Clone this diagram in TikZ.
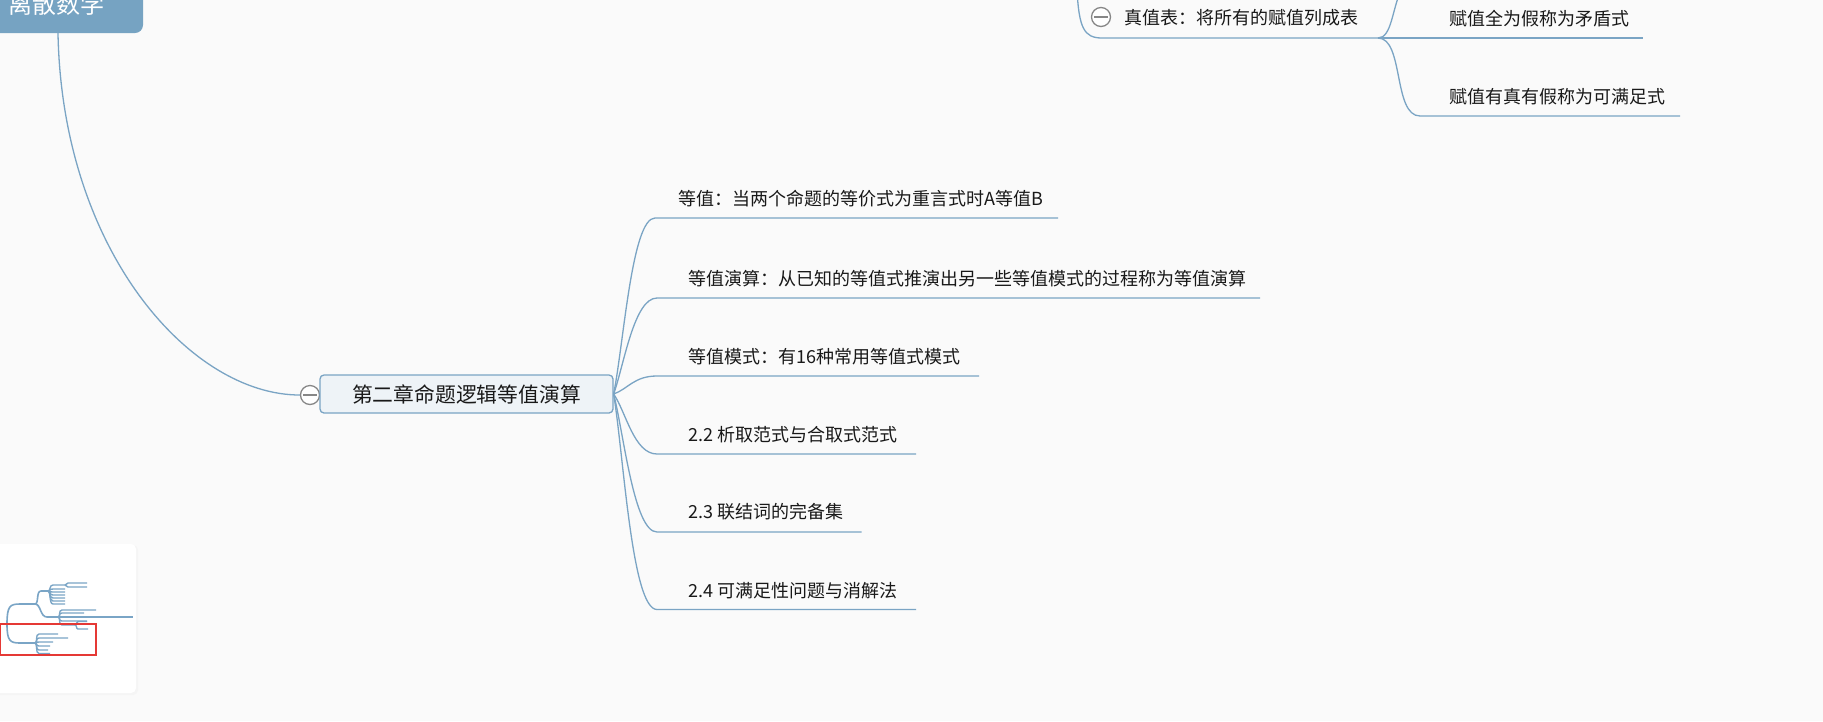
\documentclass[tikz,border=0pt]{standalone}
\usepackage{fontspec}
\setmainfont{Noto Sans CJK SC}
\definecolor{bg}{RGB}{250,250,250}
\definecolor{lineblue}{RGB}{122,164,196}
\definecolor{rootblue}{RGB}{118,163,194}
\definecolor{cfill}{RGB}{238,243,247}
\definecolor{txt}{RGB}{25,25,25}
\definecolor{togglegray}{RGB}{135,135,135}
\definecolor{minicol}{RGB}{122,165,198}
\definecolor{mapred}{RGB}{229,57,53}
\begin{document}
\begin{tikzpicture}[x=1pt,y=-1pt,
  conn/.style={draw=lineblue,line width=1.3pt},
  leaf/.style={anchor=west,inner sep=0pt,text=txt,font=\fontsize{18}{20}\selectfont},
  toggle/.style={circle,draw=togglegray,fill=white,line width=1.3pt,minimum size=19pt,inner sep=0pt,
    path picture={\draw[togglegray,line width=1.4pt] ([xshift=-7pt]path picture bounding box.center) -- ([xshift=7pt]path picture bounding box.center);}},
  rootbox/.style={fill=rootblue,rounded corners=8pt,minimum width=170pt,minimum height=56pt,inner sep=0pt},
  centerbox/.style={draw=lineblue,fill=cfill,line width=1.3pt,rounded corners=4pt,minimum width=293pt,minimum height=38pt,inner sep=0pt,text=txt,font=\fontsize{20.8}{22}\selectfont},
  minline/.style={draw=minicol,line width=1.6pt},
  redframe/.style={draw=mapred,line width=1.5pt}
]
\fill[bg] (0,0) rectangle (1823,721);
\useasboundingbox (0,0) rectangle (1823,721);
\clip (0,0) rectangle (1823,721);

% root
\node[rootbox] (root) at (58,5) {};
\node[anchor=base west,inner sep=0pt,text=white,font=\fontsize{24}{24}\selectfont] (roottxt) at (8,13) {离散数学};

% central node
\node[toggle] (t1) at (310,395) {};
\node[centerbox] (ch2) at (466.5,394) {第二章命题逻辑等值演算};
\draw[conn] (root.south) .. controls (62,250) and (190,395) .. (t1.west);

% children of chapter 2
\node[leaf] (k1) at (678,199) {等值：当两个命题的等价式为重言式时A等值B};
\node[leaf] (k2) at (688,279) {等值演算：从已知的等值式推演出另一些等值模式的过程称为等值演算};
\node[leaf] (k3) at (688,357) {等值模式：有16种常用等值式模式};
\node[leaf] (k4) at (688,435) {2.2 析取范式与合取式范式};
\node[leaf] (k5) at (688,512) {2.3 联结词的完备集};
\node[leaf] (k6) at (688,591) {2.4 可满足性问题与消解法};

\coordinate (u1s) at (655,218);   \coordinate (u1e) at (1058,218);
\coordinate (u2s) at (657,298);   \coordinate (u2e) at (1260,298);
\coordinate (u3s) at (657,376);   \coordinate (u3e) at (979,376);
\coordinate (u4s) at (657,454);   \coordinate (u4e) at (916,454);
\coordinate (u5s) at (657,532);   \coordinate (u5e) at (861.5,532);
\coordinate (u6s) at (657,609.5); \coordinate (u6e) at (916,609.5);

\draw[conn] (ch2.east) .. controls (624,341) and (632,218) .. (u1s) -- (u1e);
\draw[conn] (ch2.east) .. controls (624,365) and (634,298) .. (u2s) -- (u2e);
\draw[conn] (ch2.east) .. controls (628,389) and (634,376) .. (u3s) -- (u3e);
\draw[conn] (ch2.east) .. controls (626,412) and (634,454) .. (u4s) -- (u4e);
\draw[conn] (ch2.east) .. controls (624,435) and (634,532) .. (u5s) -- (u5e);
\draw[conn] (ch2.east) .. controls (624,459) and (632,609.5) .. (u6s) -- (u6e);

% top right: truth table
\node[toggle] (t2) at (1101,17) {};
\node[leaf] (tv) at (1124,17.5) {真值表：将所有的赋值列成表};
\coordinate (p0) at (1077,-10);
\coordinate (tvs) at (1102,38);
\coordinate (tve) at (1378,38);
\draw[conn] (p0) .. controls (1079,28) and (1084,38) .. (tvs) -- (tve);
\coordinate (up) at (1402,-12);
\draw[conn] (tve) .. controls (1392,38) and (1392,8) .. (up);
\node[leaf] (f1) at (1449,19) {赋值全为假称为矛盾式};
\coordinate (f1e) at (1643,38);
\draw[conn] (tve) -- (f1e);
\node[leaf] (f2) at (1449,96.5) {赋值有真有假称为可满足式};
\coordinate (f2s) at (1420,116);
\coordinate (f2e) at (1680,116);
\draw[conn] (tve) .. controls (1404,38) and (1393,116) .. (f2s) -- (f2e);

% minimap
\fill[black!4,rounded corners=5pt] (-10,545) rectangle (138,695);
\fill[white,rounded corners=5pt] (-10,544) rectangle (136,693);
\draw[minline] (3,624) -- (12,624);
\draw[minline] (7,624) .. controls (7,606) and (10,604) .. (20,604) -- (35,604);
\draw[minline] (7,624) .. controls (7,641) and (10,643) .. (20,643) -- (35,643);
\draw[minline] (35,604) .. controls (39,604) and (36,591) .. (41,591) -- (48,591);
\draw[minline] (35,604) .. controls (41,604) and (40,617) .. (47,617) -- (58,617);
\foreach \yy/\xe in {585/65,589/65,592/65,595/65,598/65,601/65,604/65}
  \draw[minline,line width=1.4pt] (48,591) .. controls (51,591) and (49,\yy) .. (53,\yy) -- (\xe,\yy);
\foreach \yy/\xe in {583/87,587/87}
  \draw[minline,line width=1.4pt] (65,585) .. controls (67,585) and (66,\yy) .. (68,\yy) -- (\xe,\yy);
\foreach \yy/\xe in {610/96,613/84,617/133,621/87,625/75}
  \draw[minline,line width=1.4pt] (58,617) .. controls (61,617) and (58,\yy) .. (62,\yy) -- (\xe,\yy);
\foreach \yy/\xe in {621.5/87,629/88}
  \draw[minline,line width=1.4pt] (75,625) .. controls (77,625) and (76,\yy) .. (78,\yy) -- (\xe,\yy);
\foreach \yy/\xe in {634/58,638/68,642/53,646/50,650/48,653.5/50}
  \draw[minline,line width=1.4pt] (35,643) .. controls (38,643) and (35,\yy) .. (39,\yy) -- (\xe,\yy);
\draw[redframe] (0,624) rectangle (96,655);
\end{tikzpicture}
\end{document}
